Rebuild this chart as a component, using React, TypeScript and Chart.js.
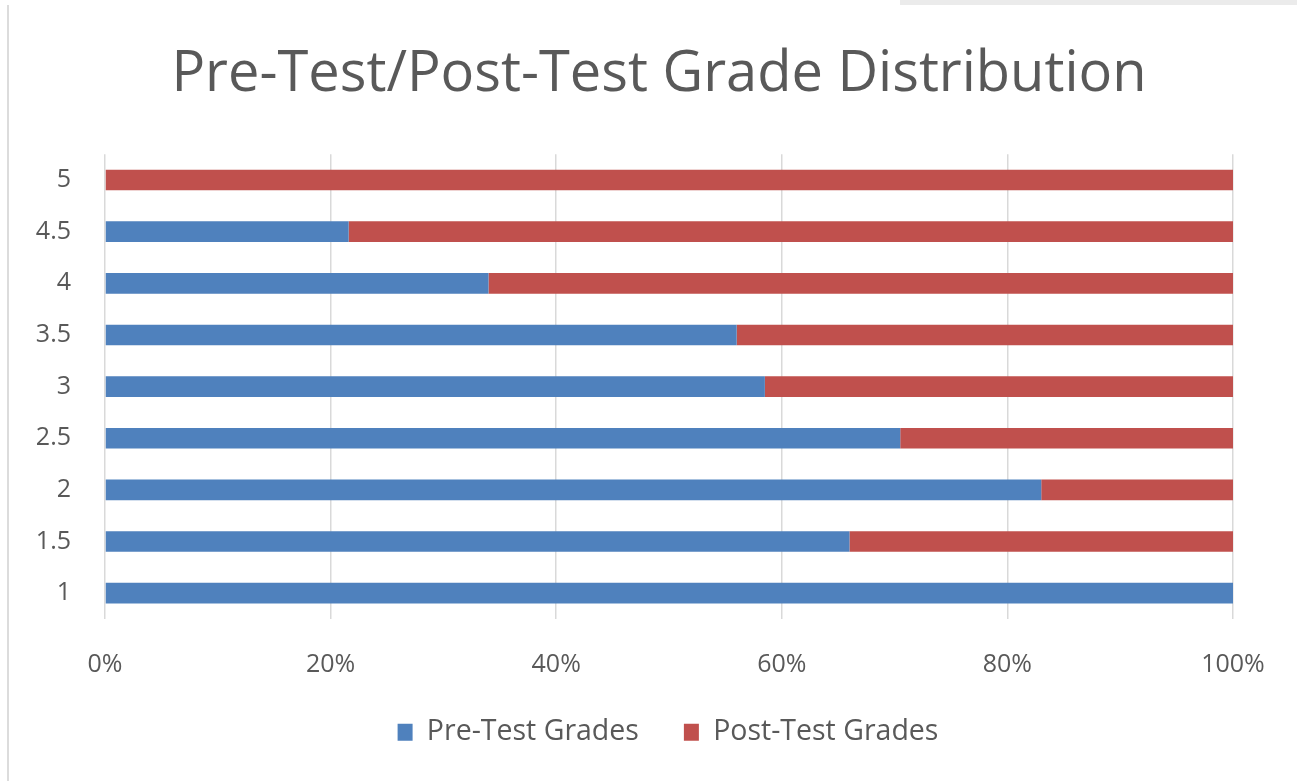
import React, { useEffect, useRef } from "react";
import { Chart, registerables } from "chart.js";

Chart.register(...registerables);

const TITLE = "Pre-Test/Post-Test Grade Distribution";
const categories = ["1", "1.5", "2", "2.5", "3", "3.5", "4", "4.5", "5"];
const preTest = [100, 66, 83, 70.5, 58.5, 56, 34, 21.6, 0];
const postTest = [0, 34, 17, 29.5, 41.5, 44, 66, 78.4, 100];
const xTicks = [0, 20, 40, 60, 80, 100];

const FONT = "'Open Sans', 'DejaVu Sans', sans-serif";
const TEXT = "#595959";
const LEGEND_GAP = 45;

const legendShift = {
  id: "legendShift",
  afterLayout(chart: any) {
    const lg = chart.legend;
    if (!lg) return;
    const shift = LEGEND_GAP - 7;
    lg.top -= shift;
    lg.height = 2 * LEGEND_GAP + 30;
    lg.bottom = lg.top + lg.height;
    lg.left += 9;
    lg.right += 9;
  },
};

export default function App() {
  const ref = useRef<HTMLCanvasElement | null>(null);

  useEffect(() => {
    document.body.style.margin = "0";
    const canvas = ref.current;
    if (!canvas) return;
    const chart = new Chart(canvas, {
      type: "bar",
      data: {
        labels: categories,
        datasets: [
          {
            label: "Pre-Test Grades",
            data: preTest,
            backgroundColor: "#4F81BD",
            categoryPercentage: 0.8,
            barPercentage: 0.5,
          },
          {
            label: "Post-Test Grades",
            data: postTest,
            backgroundColor: "#C0504D",
            categoryPercentage: 0.8,
            barPercentage: 0.5,
          },
        ],
      },
      plugins: [legendShift],
      options: {
        indexAxis: "y",
        animation: false,
        responsive: false,
        maintainAspectRatio: false,
        layout: { padding: { left: 21, right: 0, top: 0, bottom: 22 } },
        plugins: {
          title: {
            display: true,
            text: TITLE,
            color: TEXT,
            font: { family: FONT, size: 56, weight: "normal" },
            padding: { top: 41, bottom: 46 },
          },
          legend: {
            position: "bottom",
            maxHeight: 48,
            labels: {
              color: TEXT,
              font: { family: FONT, size: 28.5 },
              boxWidth: 15,
              boxHeight: 17,
              padding: LEGEND_GAP,
            },
          },
          tooltip: { enabled: false },
        },
        scales: {
          x: {
            stacked: true,
            min: 0,
            max: 100,
            afterBuildTicks: (scale: any) => {
              scale.ticks = xTicks.map((v) => ({ value: v }));
            },
            afterFit: (scale: any) => {
              scale.paddingRight = 64;
            },
            ticks: {
              color: TEXT,
              font: { family: FONT, size: 25 },
              padding: 31,
              callback: (v: any) => v + "%",
            },
            grid: { color: "#d9d9d9", lineWidth: 1.5, drawTicks: false },
            border: { display: false },
          },
          y: {
            stacked: true,
            reverse: true,
            afterFit: (scale: any) => {
              scale.width = 84;
            },
            ticks: {
              color: TEXT,
              font: { family: FONT, size: 25 },
              padding: 34,
            },
            grid: { display: false, drawTicks: false },
            border: { display: false },
          },
        },
      },
    });
    return () => chart.destroy();
  }, []);

  return (
    <div style={{ position: "relative", width: 1297, height: 781, background: "#fff", overflow: "hidden" }}>
      <div style={{ position: "absolute", left: 900, right: 0, top: 0, height: 5, background: "#ebebeb" }} />
      <div style={{ position: "absolute", left: 7, top: 5, bottom: 0, width: 2, background: "#dcdcdc" }} />
      <canvas ref={ref} width={1297} height={781} style={{ position: "absolute", left: 0, top: 0 }} />
    </div>
  );
}
